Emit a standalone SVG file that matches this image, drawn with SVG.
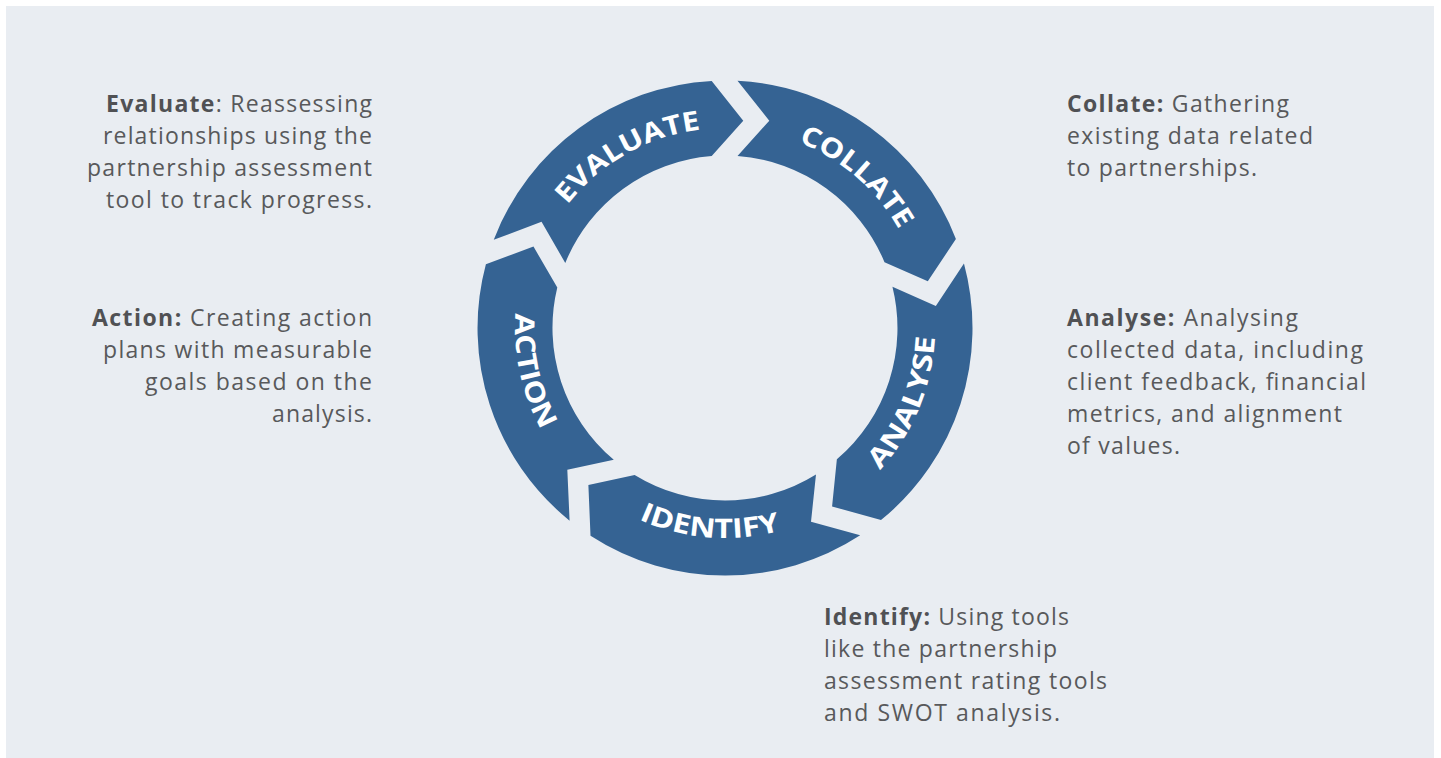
<svg xmlns="http://www.w3.org/2000/svg" xmlns:xlink="http://www.w3.org/1999/xlink" width="1441" height="758" viewBox="0 0 1441 758">
  <style>
    .seg { fill: #356393; }
    .lbl { font-family: "Open Sans", "Liberation Sans", sans-serif; font-weight: 700; font-size: 27px; fill: #ffffff; text-anchor: middle; }
    .desc { font-family: "Open Sans", "Liberation Sans", sans-serif; font-size: 23px; fill: #58595b; }
    .desc .b { font-weight: 700; fill: #505154; }
    .end { text-anchor: end; }
  </style>
  <defs>
    <path id="seg" d="M 12.5 -247.2 A 247.5 247.5 0 0 1 230.9 -89.0 L 202.8 -46.7 L 159.5 -65.8 A 172.5 172.5 0 0 0 12.5 -172.0 L 44.3 -207.3 Z"/>
    <path id="arcCW" d="M -173.2 -100 A 200 200 0 0 1 173.2 -100"/>
    <path id="arcCCW" d="M -181.87 105 A 210 210 0 0 0 181.87 105"/>
  </defs>

  <rect x="6" y="6" width="1428" height="752" fill="#e9edf2"/>

  <g id="connectors"></g>

  <g id="node-collate" transform="translate(725,328)">
    <use href="#seg" xlink:href="#seg" class="seg"/>
    <text class="lbl" transform="rotate(41)"><textPath href="#arcCW" xlink:href="#arcCW" startOffset="50%" textLength="136" lengthAdjust="spacingAndGlyphs">COLLATE</textPath></text>
  </g>
  <g id="node-analyse" transform="translate(725,328)">
    <use href="#seg" xlink:href="#seg" class="seg" transform="rotate(72)"/>
    <text class="lbl" transform="rotate(-67.5)"><textPath href="#arcCCW" xlink:href="#arcCCW" startOffset="50%" textLength="147" lengthAdjust="spacingAndGlyphs">ANALYSE</textPath></text>
  </g>
  <g id="node-identify" transform="translate(725,328)">
    <use href="#seg" xlink:href="#seg" class="seg" transform="rotate(144)"/>
    <text class="lbl" transform="rotate(4.5)"><textPath href="#arcCCW" xlink:href="#arcCCW" startOffset="50%" textLength="145" lengthAdjust="spacingAndGlyphs">IDENTIFY</textPath></text>
  </g>
  <g id="node-action" transform="translate(725,328)">
    <use href="#seg" xlink:href="#seg" class="seg" transform="rotate(216)"/>
    <text class="lbl" transform="rotate(77.5)"><textPath href="#arcCCW" xlink:href="#arcCCW" startOffset="50%" textLength="121" lengthAdjust="spacingAndGlyphs">ACTION</textPath></text>
  </g>
  <g id="node-evaluate" transform="translate(725,328)">
    <use href="#seg" xlink:href="#seg" class="seg" transform="rotate(288)"/>
    <text class="lbl" transform="rotate(-29.5)"><textPath href="#arcCW" xlink:href="#arcCW" startOffset="50%" textLength="157" lengthAdjust="spacingAndGlyphs">EVALUATE</textPath></text>
  </g>

  <g id="desc-evaluate" class="desc">
    <text class="desc end" x="372" y="112" textLength="266" lengthAdjust="spacing"><tspan class="b">Evaluate</tspan>: Reassessing</text>
    <text class="desc end" x="372" y="144" textLength="269" lengthAdjust="spacing">relationships using the</text>
    <text class="desc end" x="372" y="176" textLength="285" lengthAdjust="spacing">partnership assessment</text>
    <text class="desc end" x="372" y="208" textLength="266" lengthAdjust="spacing">tool to track progress.</text>
  </g>
  <g id="desc-action" class="desc">
    <text class="desc end" x="372" y="326" textLength="280" lengthAdjust="spacing"><tspan class="b">Action:</tspan> Creating action</text>
    <text class="desc end" x="372" y="358" textLength="269" lengthAdjust="spacing">plans with measurable</text>
    <text class="desc end" x="372" y="390" textLength="227" lengthAdjust="spacing">goals based on the</text>
    <text class="desc end" x="372" y="422" textLength="100" lengthAdjust="spacing">analysis.</text>
  </g>
  <g id="desc-collate" class="desc">
    <text class="desc" x="1067" y="112" textLength="222" lengthAdjust="spacing"><tspan class="b">Collate:</tspan> Gathering</text>
    <text class="desc" x="1067" y="144" textLength="246" lengthAdjust="spacing">existing data related</text>
    <text class="desc" x="1067" y="176" textLength="190" lengthAdjust="spacing">to partnerships.</text>
  </g>
  <g id="desc-analyse" class="desc">
    <text class="desc" x="1067" y="326" textLength="231" lengthAdjust="spacing"><tspan class="b">Analyse:</tspan> Analysing</text>
    <text class="desc" x="1067" y="358" textLength="296" lengthAdjust="spacing">collected data, including</text>
    <text class="desc" x="1067" y="390" textLength="299" lengthAdjust="spacing">client feedback, financial</text>
    <text class="desc" x="1067" y="422" textLength="275" lengthAdjust="spacing">metrics, and alignment</text>
    <text class="desc" x="1067" y="454" textLength="113" lengthAdjust="spacing">of values.</text>
  </g>
  <g id="desc-identify" class="desc">
    <text class="desc" x="824" y="625" textLength="245" lengthAdjust="spacing"><tspan class="b">Identify:</tspan> Using tools</text>
    <text class="desc" x="824" y="657" textLength="233" lengthAdjust="spacing">like the partnership</text>
    <text class="desc" x="824" y="689" textLength="283" lengthAdjust="spacing">assessment rating tools</text>
    <text class="desc" x="824" y="721" textLength="236" lengthAdjust="spacing">and SWOT analysis.</text>
  </g>
</svg>
